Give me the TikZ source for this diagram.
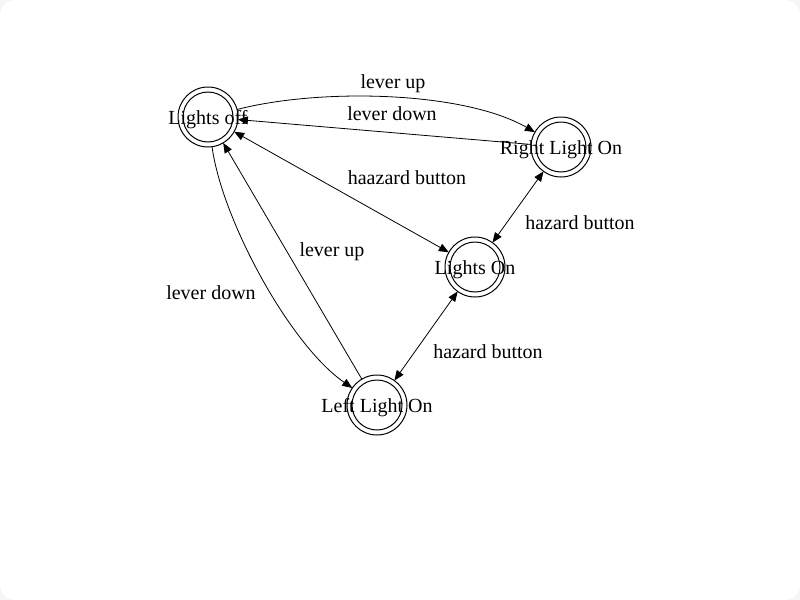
\documentclass[tikz,border=0pt]{standalone}
\usepackage{fontspec}
\setmainfont{Liberation Serif}
\usetikzlibrary{arrows.meta}
\begin{document}
\begin{tikzpicture}[x=0.75pt,y=-0.75pt,
  state/.style={circle,draw,line width=0.75pt,minimum size=45pt,inner sep=0pt,outer sep=0pt,
    font=\fontsize{15}{18}\selectfont,text height=15pt,text depth=3.2pt,
    path picture={\draw[line width=0.75pt] (path picture bounding box.center) circle[radius=18.75pt];}},
  lbl/.style={font=\fontsize{15}{18}\selectfont,inner sep=0pt},
  tr/.style={line width=0.6pt,-{Triangle[length=7.5pt,width=6pt]}},
  bi/.style={line width=0.6pt,{Triangle[length=7.5pt,width=6pt]}-{Triangle[length=7.5pt,width=6pt]}}]
\useasboundingbox (0,0) rectangle (800,600);
\fill[gray!7] (0,0) rectangle (800,600);
\fill[white,rounded corners=12pt] (0,0) rectangle (800,600);

\node[state] (loff) at (208,117) {\makebox[0pt]{Lights off}};
\node[state] (rlon) at (561,147) {\makebox[0pt]{Right Light On}};
\node[state] (lon) at (475,267) {\makebox[0pt]{Lights On}};
\node[state] (llon) at (377,405) {\makebox[0pt]{Left Light On}};

\draw[tr] (loff) .. controls (320,88) and (463,91) .. (rlon);
\draw[tr] (rlon) -- (loff);
\draw[bi] (loff) -- (lon);
\draw[bi] (rlon) -- (lon);
\draw[bi] (lon) -- (llon);
\draw[tr] (loff) .. controls (222,220) and (290,345) .. (llon);
\draw[tr] (llon) -- (loff);

\node[lbl] (l1) at (393,84) {lever up};
\node[lbl] (l2) at (392,114) {lever down};
\node[lbl] (l3) at (407,178) {haazard button};
\node[lbl] (l4) at (580,223) {hazard button};
\node[lbl] (l5) at (488,352) {hazard button};
\node[lbl] (l6) at (211,293) {lever down};
\node[lbl] (l7) at (332,252) {lever up};
\end{tikzpicture}
\end{document}
